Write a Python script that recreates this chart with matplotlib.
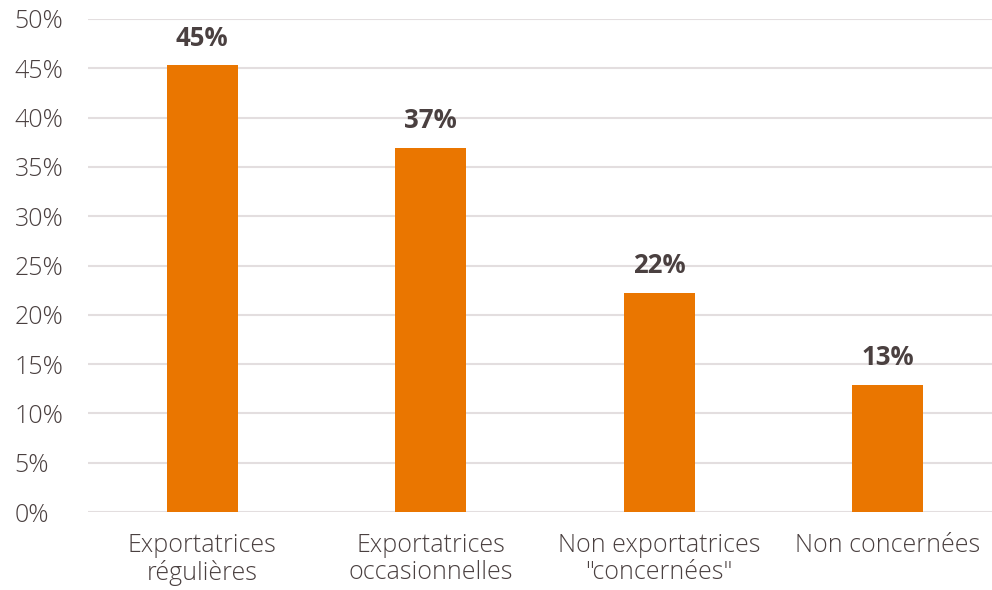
import matplotlib
matplotlib.use('Agg')
import matplotlib.pyplot as plt
from matplotlib.ticker import PercentFormatter

categories = ["Exportatrices\nrégulières", "Exportatrices\noccasionnelles",
              "Non exportatrices\n\"concernées\"", "Non concernées"]
values = [45.3, 36.9, 22.2, 12.9]
labels = ["45%", "37%", "22%", "13%"]

text_col = "#4a4040"
bar_col = "#ea7600"
grid_col = "#e3dedf"

plt.rcParams['font.family'] = ['Open Sans', 'DejaVu Sans']

fig = plt.figure(figsize=(9.92, 5.9), dpi=100)
ax = fig.add_axes([88/992, 1-512/590, 914/992, 493/590])

x = range(len(categories))
ax.bar(x, values, width=0.31, color=bar_col, zorder=3)
for i, v in enumerate(values):
    ax.text(i, v + 1.4, labels[i], ha='center', va='bottom', fontsize=18.5,
            fontweight='bold', color=text_col)

ax.set_xlim(-0.5, 3.5)
ax.set_ylim(0, 50)
ax.set_yticks(range(0, 51, 5))
ax.yaxis.set_major_formatter(PercentFormatter(decimals=0))
ax.set_xticks(list(x))
ax.set_xticklabels(categories, linespacing=1.12, fontsize=19.5, fontweight=300)
ax.grid(axis='y', color=grid_col, linewidth=1.5, zorder=0)
for s in ax.spines.values():
    s.set_visible(False)
ax.tick_params(axis='both', length=0, labelsize=18, labelcolor=text_col)
ax.tick_params(axis='x', pad=15)
ax.tick_params(axis='y', pad=53)
for t in ax.get_yticklabels():
    t.set_horizontalalignment('left')
    t.set_fontweight(300)

plt.savefig('out.png', dpi=100)
